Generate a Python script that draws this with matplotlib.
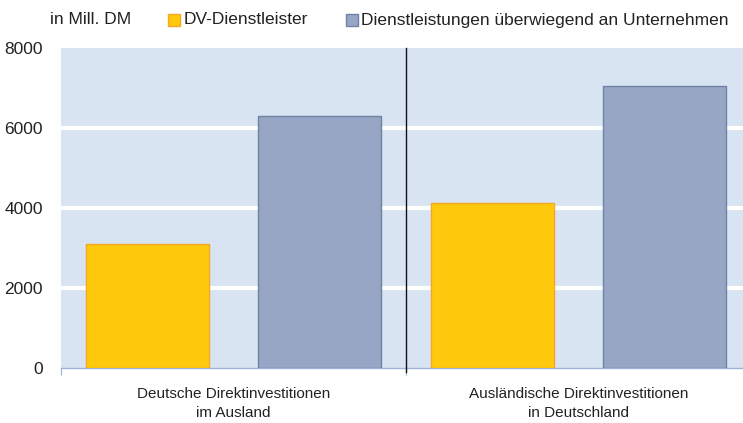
import matplotlib
matplotlib.use("Agg")
import matplotlib.pyplot as plt
from matplotlib.patches import Rectangle
import numpy as np

plt.rcParams['font.family'] = ['Liberation Sans', 'DejaVu Sans']

categories = ["Deutsche Direktinvestitionen\nim Ausland",
              "Ausländische Direktinvestitionen\nin Deutschland"]
series_names = ["DV-Dienstleister", "Dienstleistungen überwiegend an Unternehmen"]
dv_values = [3090, 4130]
dl_values = [6300, 7060]
yticks = [0, 2000, 4000, 6000, 8000]
unit_label = "in Mill. DM"

W, H = 743, 423
fig = plt.figure(figsize=(W/100, H/100), dpi=100)
left, right, top, bottom = 61, 751, 48, 368
ax = fig.add_axes([left/W, 1 - bottom/H, (right-left)/W, (bottom-top)/H])
ax.set_facecolor('#D9E4F2')

x = np.arange(len(categories))
bw = 0.357
off = 0.25
ax.bar(x - off, dv_values, bw, color='#FFC90E', edgecolor='#F5A623', linewidth=1, zorder=3)
ax.bar(x + off, dl_values, bw, color='#96A6C4', edgecolor='#6F82A6', linewidth=1, zorder=3)

ax.set_xlim(-0.5, 1.5)
ax.set_ylim(0, 8000)
ax.set_yticks(yticks)
ax.set_yticklabels([str(v) for v in yticks], fontsize=12.5, color='#222222')
ax.tick_params(axis='y', length=0, pad=13)
for v in yticks[1:-1]:
    ax.axhline(v, color='white', lw=3, zorder=1)

for s in ['top', 'right', 'left']:
    ax.spines[s].set_visible(False)
ax.spines['bottom'].set_color('#9DB3D6')
ax.spines['bottom'].set_linewidth(1)

ax.set_xticks([-0.5, 0.5, 1.5], minor=False)
ax.set_xticklabels([])
ax.tick_params(axis='x', length=5, color='#9DB3D6', direction='out')
for i, c in enumerate(categories):
    ax.text(i, -480, c, ha='center', va='top', fontsize=11, color='#222222',
            linespacing=1.45, clip_on=False)

ax.plot([0.5, 0.5], [-100, 8000], color='#111111', lw=1, zorder=4, clip_on=False)

# header texts and legend
fig.text(50/W, 1 - 20/H, unit_label, fontsize=12.5, va='center', ha='left', color='#222222')
fig.patches.append(Rectangle((168/W, 1 - 26/H), 12/W, 12/H, transform=fig.transFigure,
                             facecolor='#FFC90E', edgecolor='#F5A623', lw=1))
fig.text(184/W, 1 - 20/H, series_names[0], fontsize=12.5, va='center', ha='left', color='#222222')
fig.patches.append(Rectangle((346/W, 1 - 26/H), 12/W, 12/H, transform=fig.transFigure,
                             facecolor='#96A6C4', edgecolor='#6F82A6', lw=1))
fig.text(361/W, 1 - 20/H, series_names[1], fontsize=12.5, va='center', ha='left', color='#222222')

fig.savefig("out.png", dpi=100)
